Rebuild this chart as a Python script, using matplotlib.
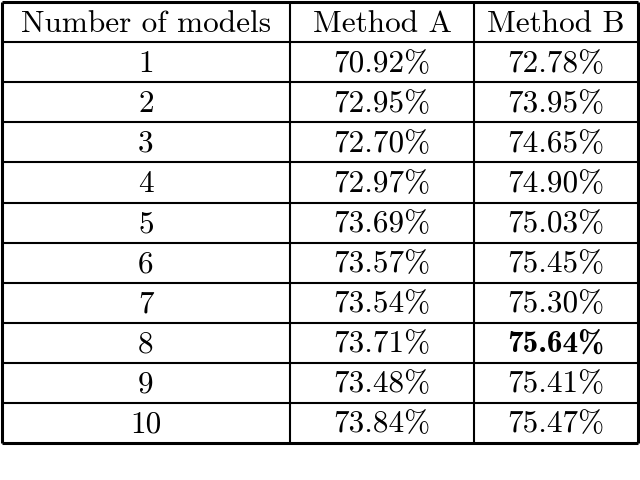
import matplotlib.pyplot as plt

headers = ['Number of models', 'Method A', 'Method B']
models = ['1', '2', '3', '4', '5', '6', '7', '8', '9', '10']
method_a = ['70.92%', '72.95%', '72.70%', '72.97%', '73.69%', '73.57%', '73.54%', '73.71%', '73.48%', '73.84%']
method_b = ['72.78%', '73.95%', '74.65%', '74.90%', '75.03%', '75.45%', '75.30%', '75.64%', '75.41%', '75.47%']
best_row = 7

fig = plt.figure(figsize=(6.4, 4.8), dpi=100)
ax = fig.add_axes([0, 0, 1, 1])
ax.set_xlim(0, 640)
ax.set_ylim(480, 0)
ax.axis('off')

col_edges = [2, 290, 474, 638]
row_h = 40.1
top = 2
n_rows = len(models) + 1
bottom = top + n_rows * row_h

# grid lines
for i in range(n_rows + 1):
    y = top + i * row_h
    lw = 2.2 if i in (0, n_rows) else 1.5
    ax.hlines(y, col_edges[0], col_edges[-1], color='black', lw=lw)
for j, x in enumerate(col_edges):
    lw = 2.2 if j in (0, len(col_edges) - 1) else 1.5
    ax.vlines(x, top, bottom, color='black', lw=lw)

centers = [(col_edges[k] + col_edges[k + 1]) / 2 for k in range(3)]
fs = 22.5

def cell(text, col, row, bold=False):
    y = top + (row + 0.5) * row_h + 1.5
    ax.text(centers[col], y, text, ha='center', va='center', fontsize=fs,
            family='cmb10' if bold else 'cmr10')

for k, h in enumerate(headers):
    cell(h, k, 0)
for i in range(len(models)):
    cell(models[i], 0, i + 1)
    cell(method_a[i], 1, i + 1)
    cell(method_b[i], 2, i + 1, bold=(i == best_row))

fig.savefig('out.png', dpi=100)
